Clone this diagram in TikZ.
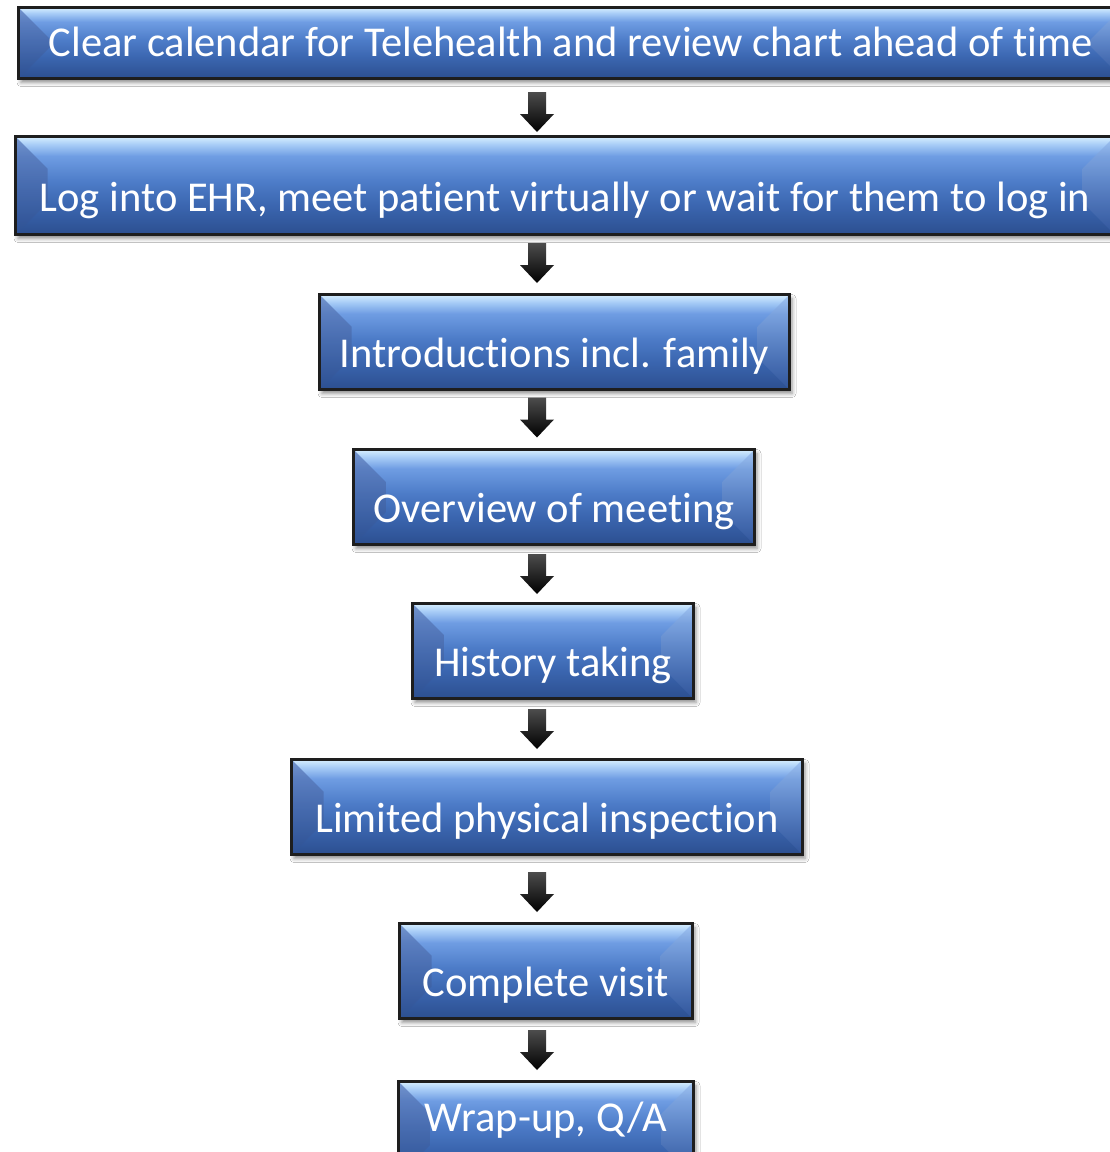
\documentclass[tikz,border=0pt]{standalone}
\usepackage{fontspec}
\setmainfont{Carlito}[Ligatures={NoCommon}, RawFeature={-liga}]
\usetikzlibrary{calc,shadows.blur}

% palette
\definecolor{edgecol}{HTML}{1E1E1E}
\definecolor{g0}{HTML}{2C4F90}
\definecolor{g1}{HTML}{3B66B0}
\definecolor{g2}{HTML}{4D7CC8}
\definecolor{g3}{HTML}{6F9DE3}
\definecolor{g4}{HTML}{A8CDF7}
\definecolor{g5}{HTML}{D7EFFF}
\definecolor{lfTop}{HTML}{5F80C0}
\definecolor{lfBot}{HTML}{2E5194}
\definecolor{rfTop}{HTML}{92B7EC}
\definecolor{rfBot}{HTML}{3458A0}

% body gradient of the step boxes (path spans 25bp..75bp)
\pgfdeclareverticalshading{boxgrad}{100bp}{%
  color(0bp)=(g0); color(25bp)=(g0); color(40bp)=(g1); color(52bp)=(g2);
  color(65bp)=(g3); color(71bp)=(g4); color(75bp)=(g5); color(100bp)=(g5)}

\tikzset{
  bev/.store in=\bevsize, bev=32pt,
  stepbox/.style={
    draw=edgecol, line width=2.6pt, shade, shading=boxgrad,
    text=white, font=\fontsize{42.5}{50}\selectfont,
    inner sep=0pt, outer sep=0pt, text depth=0pt, text height=50.4pt,
    blur shadow={shadow xshift=2.5pt, shadow yshift=-4pt,
                 shadow blur radius=4pt, shadow opacity=45},
    path picture={
      % left facet
      \shade[top color=lfTop, bottom color=lfBot, opacity=0.8]
        let \p1=(path picture bounding box.north west),
            \p2=(path picture bounding box.south east) in
        (\x1,\y1) -- (\x1+\bevsize,\y1-\bevsize) -- (\x1+\bevsize,\y2+\bevsize)
        -- (\x1,\y2) -- cycle;
      % right facet
      \shade[top color=rfTop, bottom color=rfBot, opacity=0.7]
        let \p1=(path picture bounding box.north west),
            \p2=(path picture bounding box.south east) in
        (\x2,\y1) -- (\x2-\bevsize,\y1-\bevsize) -- (\x2-\bevsize,\y2+\bevsize)
        -- (\x2,\y2) -- cycle;
    }},
  arrowshade/.style={top color=black!70, bottom color=black}
}

% block arrow between two boxes, on the vertical line through (ax)
\newcommand{\flowarrow}[3][0pt]{%
  \shade[arrowshade]
    let \p1=($(#2.south)!0.5!(#3.north)$), \p2=(ax) in
    (\x2-9pt,\y1+20pt+#1) -- (\x2+9pt,\y1+20pt+#1) -- (\x2+9pt,\y1-2pt+#1)
    -- (\x2+17pt,\y1-2pt+#1) -- (\x2,\y1-20pt+#1) -- (\x2-17pt,\y1-2pt+#1)
    -- (\x2-9pt,\y1-2pt+#1) -- cycle;}

\begin{document}
\begin{tikzpicture}[x=1pt, y=-1pt]
  \useasboundingbox (0,0) rectangle (1110,1152);
  \clip (0,0) rectangle (1110,1152);
  \fill[white] (0,0) rectangle (1110,1152);

  \coordinate (ax) at (537,0);

  \node[stepbox, minimum width=1104, minimum height=71, text height=27.4pt]
    (s1) at (570.5,43) {Clear calendar for Telehealth and review chart ahead of time};
  \node[stepbox, minimum width=1099, minimum height=98, text height=51.4pt]
    (s2) at (565,185.5) {Log into EHR, meet patient virtually or wait for them to log in};
  \node[stepbox, minimum width=470, minimum height=95]
    (s3) at (554.5,342) {Introductions incl. family};
  \node[stepbox, minimum width=401, minimum height=95]
    (s4) at (554,497) {Overview of meeting};
  \node[stepbox, minimum width=281, minimum height=95]
    (s5) at (553,651) {History taking};
  \node[stepbox, minimum width=511, minimum height=95]
    (s6) at (547,807) {Limited physical inspection};
  \node[stepbox, minimum width=293, minimum height=95]
    (s7) at (546,971) {Complete visit};
  \node[stepbox, minimum width=295, minimum height=95, text height=4.4pt]
    (s8) at (546,1129) {Wrap-up, Q/A};

  \flowarrow[-4.5pt]{s1}{s2}
  \flowarrow[1.5pt]{s2}{s3}
  \flowarrow[2pt]{s3}{s4}
  \flowarrow{s4}{s5}
  \flowarrow{s5}{s6}
  \flowarrow[-3pt]{s6}{s7}
  \flowarrow{s7}{s8}
\end{tikzpicture}
\end{document}
